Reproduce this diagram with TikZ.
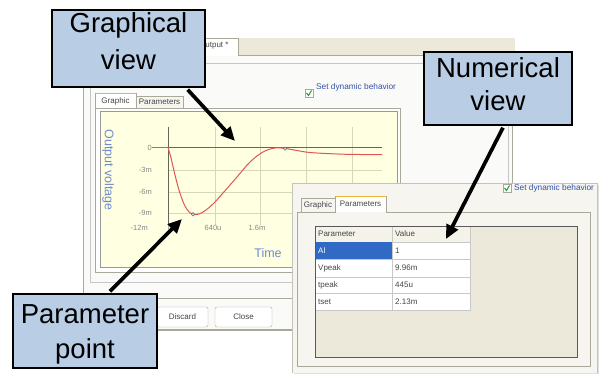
\documentclass[tikz,border=0pt]{standalone}
\usepackage{fontspec}
\setmainfont{Liberation Sans}
\usetikzlibrary{arrows.meta,calc}
\definecolor{calloutc}{RGB}{185,205,228}
\definecolor{winbg}{RGB}{250,250,248}
\definecolor{winbgb}{RGB}{246,245,240}
\definecolor{winedge}{RGB}{172,168,153}
\definecolor{tanbg}{RGB}{236,233,218}
\definecolor{plotbg}{RGB}{255,255,226}
\definecolor{gridc}{RGB}{216,214,184}
\definecolor{axisc}{RGB}{100,102,90}
\definecolor{curvec}{RGB}{228,84,84}
\definecolor{labblue}{RGB}{110,140,205}
\definecolor{ticklabc}{RGB}{135,135,135}
\definecolor{selblue}{RGB}{49,106,197}
\definecolor{taborange}{RGB}{240,180,60}
\definecolor{textgray}{RGB}{70,70,70}
\definecolor{checkgreen}{RGB}{40,150,40}
\definecolor{linkblue}{RGB}{50,80,170}
\definecolor{cellline}{RGB}{200,200,200}
\begin{document}
\begin{tikzpicture}[x=1pt,y=-1pt,
  callout/.style={draw=black,line width=1.3pt,fill=calloutc,inner sep=0pt,align=center,text=black},
  tinytxt/.style={font=\fontsize{8}{9}\selectfont,text=textgray,inner sep=0pt},
  ticktxt/.style={font=\fontsize{7.5}{8}\selectfont,text=ticklabc,inner sep=0pt},
  axtxt/.style={font=\fontsize{12.5}{13}\selectfont,text=labblue,inner sep=0pt},
  linktxt/.style={font=\fontsize{8.3}{9}\selectfont,text=linkblue,inner sep=0pt,anchor=west},
  bigarrow/.style={line width=3.7pt,-{Triangle[length=14pt,width=12.5pt]}},
  tabsel/.style={fill=white,draw=winedge},
  tabn/.style={fill=winbgb,draw=winedge},
  btn/.style={draw=winedge,fill=white,rounded corners=2pt},
  cell/.style={draw=cellline,fill=white}
]
\useasboundingbox (0,0) rectangle (602,374);
\fill[white] (0,0) rectangle (602,374);

% ---------- background window ----------
\fill[tanbg] (190,38) rectangle (515,55);
\draw[winedge] (190,55) -- (515,55);
\fill[white] (190,38) rectangle (238,56);
\draw[winedge] (238,56) -- (238,38) -- (190,38);
\node[tinytxt,anchor=west] (outtab) at (199,46) {Output *};
\fill[winbg] (83,56) rectangle (512,330);
\draw[winedge] (83,56) -- (83,330) -- (512,330) -- (512,56);
\draw[gray!45] (90,63) rectangle (508,282);
% checkbox
\draw[winedge,fill=white] (305,89) rectangle (313,97);
\draw[checkgreen,line width=1pt] (306.5,93) -- (308.5,95.5) -- (311.5,90.5);
\node[linktxt] (bgset) at (316,87) {Set dynamic behavior};
% tabs
\fill[tabn] (136,96) rectangle (183,108);
\node[tinytxt] (bgpar) at (159.5,102) {Parameters};
\fill[tabsel] (95,108) -- (95,93) -- (136,93) -- (136,108);
\draw[taborange,line width=1.2pt] (95.5,93.5) -- (135.5,93.5);
\node[tinytxt] (bggra) at (115.5,101) {Graphic};
% panel
\draw[winedge,fill=white] (95,108) rectangle (400,272);
\fill[plotbg] (100,112) rectangle (397,267);
\draw[gray!80,line width=1pt] (100,112) rectangle (397,267);
% grid
\foreach \gx in {215,260,306,352} \draw[gridc,line width=0.7pt] (\gx,127) -- (\gx,225);
\foreach \gy in {170,192,213} \draw[gridc,line width=0.7pt] (168,\gy) -- (382,\gy);
\draw[axisc,line width=1pt] (168,127) -- (168,225);
\draw[axisc,line width=1pt] (152,148) -- (382,148);
% curve
\draw[curvec,line width=1pt] (152,147.5) -- (168,147.5);
\draw[curvec,line width=1pt] plot[smooth,tension=0.6] coordinates {(168,147.5) (171,158) (175,175) (179,190) (184,204) (189,212) (193,214.5) (199,214) (206,210) (214,203) (223,193) (237,177) (250,162) (263,152) (275,148) (285,148.5) (297,150.5) (310,152.5) (337,154) (360,154.5) (382,154.5)};
\draw[gray!80!black,fill=gray!40] (193,214.3) circle (1.8);
\draw[gray!80!black,fill=gray!40] (285,148.6) circle (1.8);
% tick labels
\node[ticktxt,anchor=east] (ty0) at (152,148) {0};
\node[ticktxt,anchor=east] (ty3) at (152,170) {-3m};
\node[ticktxt,anchor=east] (ty6) at (152,192) {-6m};
\node[ticktxt,anchor=east] (ty9) at (152,213) {-9m};
\node[ticktxt,anchor=east] (ty12) at (148,228) {-12m};
\node[ticktxt] (tx0) at (170,228) {0};
\node[ticktxt] (tx1) at (213,228) {640u};
\node[ticktxt] (tx2) at (257,228) {1.6m};
\node[axtxt] (timelab) at (268,253) {Time};
\node[axtxt,rotate=-90] (vlab) at (108,170) {Output voltage};
% lower part
\draw[winedge] (83,298) -- (292,298);
\node[btn,minimum width=51pt,minimum height=20pt,inner sep=0pt] (discard) at (182.5,317) {};
\node[tinytxt] at (discard) {Discard};
\node[btn,minimum width=57pt,minimum height=20pt,inner sep=0pt] (close) at (243.5,317) {};
\node[tinytxt] at (close) {Close};
\draw[winedge,line width=1.5pt] (83,330) -- (292,330);

% ---------- front window ----------
\fill[gray!25] (294,185) rectangle (599,374);
\fill[winbgb] (292,183) rectangle (597,373);
\draw[winedge!70] (292,373) -- (292,183) -- (597,183) -- (597,373);
\draw[winedge,fill=white] (503,184) rectangle (511,192);
\draw[checkgreen,line width=1pt] (504.5,188) -- (506.5,190.5) -- (509.5,185.5);
\node[linktxt] (fgset) at (514,188) {Set dynamic behavior};
% tabs
\fill[tabn] (301,198) rectangle (335,212);
\node[tinytxt] (fggra) at (318,205) {Graphic};
\fill[tabsel] (335,212) -- (335,196) -- (386,196) -- (386,212);
\draw[taborange,line width=1.2pt] (335.5,196.5) -- (385.5,196.5);
\node[tinytxt] (fgpar) at (360.5,204) {Parameters};
\draw[winedge] (297,212) -- (335,212);
\draw[winedge] (386,212) -- (590,212) -- (590,366) -- (297,366) -- (297,212);
% inner tan box
\fill[tanbg] (315,226) rectangle (577,357);
% table
\fill[tanbg!60!white] (315,226) rectangle (470,242);
\draw[cellline] (315,226) rectangle (392,242);
\draw[cellline] (392,226) rectangle (470,242);
\node[tinytxt,anchor=west] (hpar) at (318,234) {Parameter};
\node[tinytxt,anchor=west] (hval) at (395,234) {Value};
\fill[selblue] (315,242) rectangle (392,259);
\draw[cellline,fill=white] (392,242) rectangle (470,259);
\node[tinytxt,anchor=west,text=white] (pal) at (318,250.5) {Al};
\node[tinytxt,anchor=west] (val) at (395,250.5) {1};
\draw[cell] (315,259) rectangle (392,277);
\draw[cell] (392,259) rectangle (470,277);
\node[tinytxt,anchor=west] (pvp) at (318,268) {Vpeak};
\node[tinytxt,anchor=west] (vvp) at (395,268) {9.96m};
\draw[cell] (315,277) rectangle (392,293);
\draw[cell] (392,277) rectangle (470,293);
\node[tinytxt,anchor=west] (ptp) at (318,285) {tpeak};
\node[tinytxt,anchor=west] (vtp) at (395,285) {445u};
\draw[cell] (315,293) rectangle (392,310);
\draw[cell] (392,293) rectangle (470,310);
\node[tinytxt,anchor=west] (pts) at (318,301.5) {tset};
\node[tinytxt,anchor=west] (vts) at (395,301.5) {2.13m};
\draw[gray!70!black,line width=1pt] (315,226) rectangle (577,357);

% ---------- callouts ----------
\node[callout,minimum width=153pt,minimum height=77pt,font=\fontsize{27.5}{37}\selectfont] (gv) at (128.5,48.5)
  {\rule{0pt}{22pt}Graphical\\view\rule[-16pt]{0pt}{16pt}};
\node[callout,minimum width=148pt,minimum height=73pt,font=\fontsize{27.5}{33.5}\selectfont] (nv) at (498,88.5)
  {\rule{0pt}{22pt}Numerical\\view\rule[-11pt]{0pt}{11pt}};
\node[callout,minimum width=144pt,minimum height=74pt,font=\fontsize{27.5}{35}\selectfont] (pp) at (85,331)
  {\rule{0pt}{25pt}Parameter\\point\rule[-6pt]{0pt}{6pt}};

\coordinate (tipG) at (235,141);
\coordinate (tipN) at (446,239);
\coordinate (tipP) at (182,219);
\draw[bigarrow] ([xshift=-18pt,yshift=-2pt]gv.south east) -- (tipG);
\draw[bigarrow] ([xshift=5pt,yshift=-2pt]nv.south) -- (tipN);
\draw[bigarrow] ([xshift=25pt,yshift=2pt]pp.north) -- (tipP);
\end{tikzpicture}
\end{document}
